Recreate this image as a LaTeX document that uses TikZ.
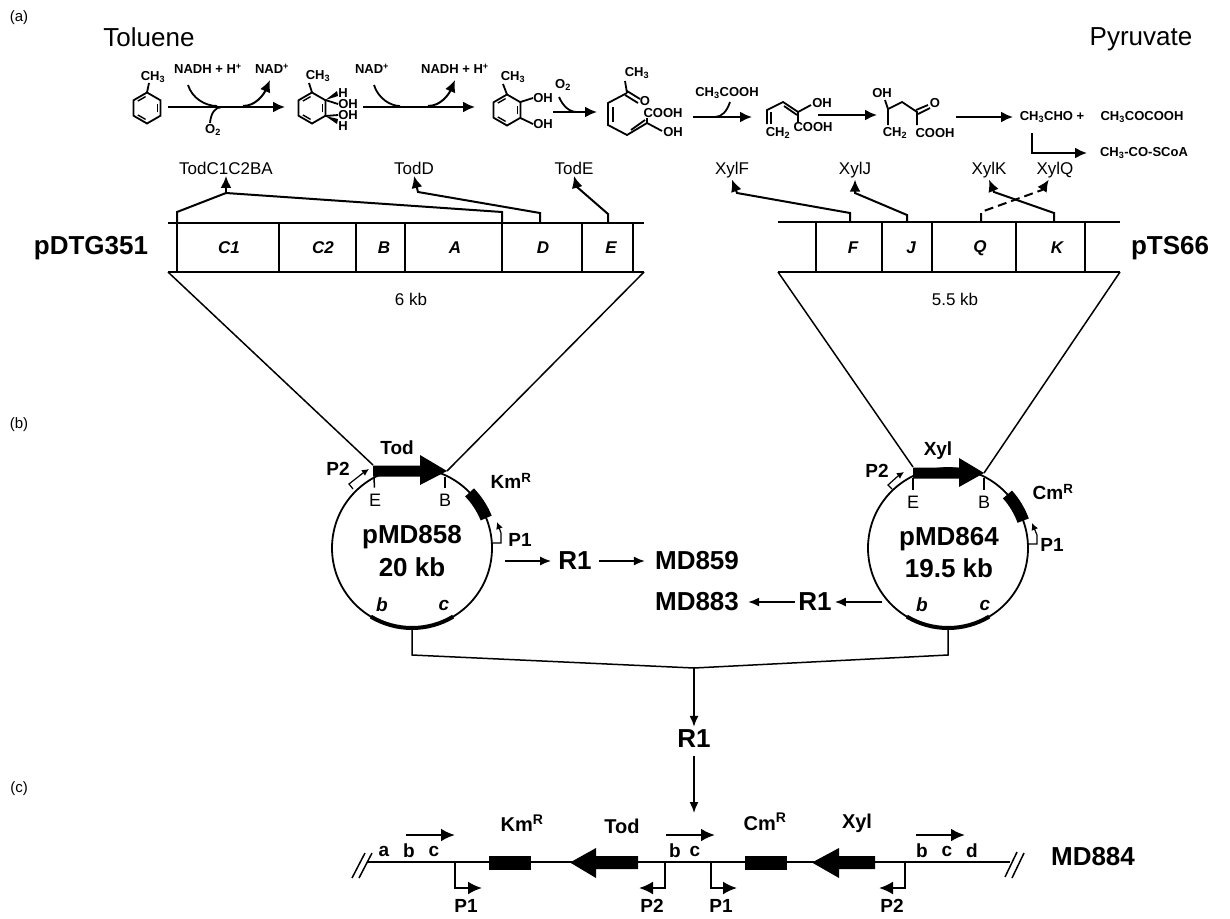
\documentclass[tikz,border=0pt]{standalone}
\usepackage{fontspec}
\setmainfont{Liberation Sans}
\usetikzlibrary{positioning,calc,shapes.geometric,arrows.meta}

\begin{document}
\begin{tikzpicture}[
  x=1pt,y=-1pt,
  panel_lbl/.style={font=\fontsize{15}{15}\selectfont,inner sep=0pt},
  title_lbl/.style={font=\fontsize{26}{26}\selectfont,inner sep=0pt},
  big_lbl/.style={font=\bfseries\fontsize{26}{26}\selectfont,inner sep=0pt},
  mid_lbl/.style={font=\bfseries\fontsize{19}{19}\selectfont,inner sep=0pt},
  low_lbl/.style={font=\bfseries\fontsize{20}{20}\selectfont,inner sep=0pt},
  site_lbl/.style={font=\fontsize{18}{18}\selectfont,inner sep=0pt},
  gene_lbl/.style={font=\fontsize{17}{17}\selectfont,inner sep=1.5pt},
  gene_ital/.style={font=\bfseries\itshape\fontsize{17}{17}\selectfont,inner sep=0pt},
  chem_lbl/.style={font=\bfseries\fontsize{13}{13}\selectfont,inner sep=0pt},
  ring/.style={draw,regular polygon,regular polygon sides=6,minimum size=31pt,shape border rotate=30,inner sep=0pt,outer sep=0pt,line width=1.8pt},
  plasmid/.style={draw,circle,minimum size=160pt,inner sep=0pt,outer sep=0pt,line width=1.8pt},
  bond/.style={line width=1.8pt},
  thin_line/.style={line width=1.5pt},
  map_line/.style={line width=2pt},
  prom/.style={line width=1.2pt,-{Latex[length=7pt,width=7pt]}},
  ptr/.style={line width=2pt,-{Latex[length=12pt,width=11pt]}},
  dptr/.style={line width=1.6pt,-{Latex[length=11pt,width=9pt]}},
  lowptr/.style={line width=2.6pt,-{Latex[length=14pt,width=13pt]}},
  ]
  \useasboundingbox (0,0) rectangle (1230,918);

  \node[panel_lbl] (NPanelA) at (19,18) {(a)};
  \node[panel_lbl] (NPanelB) at (19,425) {(b)};
  \node[panel_lbl] (NPanelC) at (19,789) {(c)};
  \node[title_lbl] (NToluene) at (149,37) {Toluene};
  \node[title_lbl] (NPyruvate) at (1141,39) {Pyruvate};

  % pathway
  \node[ring] (NRing1) at (147,108) {};
  \node[ring] (NRing2) at (312,108) {};
  \node[ring] (NRing3) at (507,110) {};
  \foreach \r in {NRing1,NRing2,NRing3} {
    \foreach \a in {90,210,330} {
      \draw[bond,line width=1.4pt] ([shift={(\a+7:11.5pt)}]\r.center) -- ([shift={(\a+53:11.5pt)}]\r.center);
    }
  }
  \node[chem_lbl] (NCh1) at (153,77) {CH\textsubscript{3}};
  \node[chem_lbl] (NCh2) at (318,76) {CH\textsubscript{3}};
  \node[chem_lbl] (NCh3) at (513,77) {CH\textsubscript{3}};
  \node[chem_lbl] (NCh4) at (637,73) {CH\textsubscript{3}};
  \draw[bond] (NRing1.north) -- (149,83);
  \draw[bond] (NRing2.north) -- (309,83);
  \draw[bond] (NRing3.north) -- (503,84);

  \node[chem_lbl] (NHa) at (343,93) {H};
  \node[chem_lbl] (NOHa) at (348,104) {OH};
  \node[chem_lbl] (NOHb) at (348,115) {OH};
  \node[chem_lbl] (NHb) at (343,126) {H};
  \fill (325.4,100) -- (337,91) -- (338,96) -- cycle;
  \fill (325.4,116) -- (337,124) -- (338,119) -- cycle;
  \draw[bond] (325.4,100) -- (338,104);
  \draw[bond] (325.4,116) -- (338,115);

  \node[chem_lbl] (NOHc) at (543,98) {OH};
  \node[chem_lbl] (NOHd) at (543,124) {OH};
  \draw[bond] (520.4,102) -- (533,98);
  \draw[bond] (520.4,118) -- (533,124);

  \draw[bond] (627,93) -- (608,103) -- (608,125) -- (627,135) -- (647,123) -- (647,118);
  \draw[bond] (613,107) -- (613,122);
  \draw[bond] (631,130) -- (645,120);
  \draw[bond] (627,93) -- (625,81);
  \draw[bond] (627,91) -- (640,99);
  \draw[bond] (625,95) -- (638,103);
  \draw[bond] (647,123) -- (662,131);
  \node[chem_lbl] (NOa) at (645,101) {O};
  \node[chem_lbl] (NCOOHa) at (663,113) {COOH};
  \node[chem_lbl] (NOHe) at (673,132) {OH};

  \draw[bond] (767,124) -- (767,110) -- (783,102) -- (798,112) -- (798,123);
  \draw[bond] (771,112) -- (771,124);
  \draw[bond] (784,106) -- (797,115);
  \draw[bond] (798,112) -- (811,105);
  \node[chem_lbl] (NCHa) at (778,133) {CH\textsubscript{2}};
  \node[chem_lbl] (NCOOHb) at (813,127) {COOH};
  \node[chem_lbl] (NOHf) at (822,103) {OH};

  \draw[bond] (888,125) -- (888,109) -- (902,102) -- (917,112) -- (917,125);
  \draw[bond] (888,109) -- (885,100);
  \draw[bond] (916,110) -- (928,105);
  \draw[bond] (918,114) -- (930,108);
  \node[chem_lbl] (NOHg) at (882,93) {OH};
  \node[chem_lbl] (NOb) at (935,103) {O};
  \node[chem_lbl] (NCHb) at (895,133) {CH\textsubscript{2}};
  \node[chem_lbl] (NCOOHc) at (935,133) {COOH};

  \node[chem_lbl] (NCofA) at (208,69) {NADH + H\textsuperscript{+}};
  \node[chem_lbl] (NCofB) at (272,69) {NAD\textsuperscript{+}};
  \node[chem_lbl] (NCofC) at (372,69) {NAD\textsuperscript{+}};
  \node[chem_lbl] (NCofD) at (455,69) {NADH + H\textsuperscript{+}};
  \node[chem_lbl] (NOxA) at (213,130) {O\textsubscript{2}};
  \node[chem_lbl] (NOxB) at (563,85) {O\textsubscript{2}};
  \node[chem_lbl] (NAcet) at (727,93) {CH\textsubscript{3}COOH};
  \node[chem_lbl] (NAcald) at (1052,117) {CH\textsubscript{3}CHO +};
  \node[chem_lbl] (NPyr) at (1142,117) {CH\textsubscript{3}COCOOH};
  \node[chem_lbl] (NScoa) at (1144,153) {CH\textsubscript{3}-CO-SCoA};

  \foreach \n/\xa/\xb/\yy in {A/168/285/107,B/363/475/107,C/553/597/112,D/693/752/117,E/818/877/115,F/956/1013/117} {
    \coordinate (Rs\n) at (\xa,\yy);
    \coordinate (Re\n) at (\xb,\yy);
    \draw[ptr] (Rs\n) -- (Re\n);
  }
  \coordinate (CurveA) at (188,85);
  \coordinate (CurveB) at (217,106);
  \coordinate (CurveC) at (243,106);
  \coordinate (CurveD) at (270,80);
  \coordinate (CurveE) at (210,123);
  \coordinate (CurveF) at (222,107);
  \draw[bond] (CurveA) .. controls (192,98) and (205,106) .. (CurveB);
  \draw[ptr] (CurveC) .. controls (256,106) and (264,94) .. (CurveD);
  \draw[bond] (CurveE) .. controls (211,113) and (215,107) .. (CurveF);
  \coordinate (CurveG) at (374,85);
  \coordinate (CurveH) at (400,106);
  \coordinate (CurveI) at (428,106);
  \coordinate (CurveJ) at (455,80);
  \draw[bond] (CurveG) .. controls (378,98) and (390,106) .. (CurveH);
  \draw[ptr] (CurveI) .. controls (441,106) and (449,94) .. (CurveJ);
  \coordinate (CurveK) at (559,97);
  \coordinate (CurveL) at (577,112);
  \draw[bond] (CurveK) .. controls (563,106) and (569,112) .. (CurveL);
  \coordinate (CurveM) at (730,102);
  \coordinate (CurveN) at (715,117);
  \draw[bond] (CurveM) .. controls (727,111) and (722,117) .. (CurveN);
  \coordinate (ElbowA) at (1032,133);
  \coordinate (ElbowB) at (1087,153);
  \draw[ptr] (ElbowA) |- (ElbowB);

  % left gene map
  \coordinate (TodTL) at (168,223);
  \coordinate (TodTR) at (644,223);
  \coordinate (TodBL) at (168,272);
  \coordinate (TodBR) at (644,272);
  \draw[map_line] (TodTL) -- (TodTR);
  \draw[map_line] (TodBL) -- (TodBR);
  \foreach \tick in {177,279,356,405,502,582,633} {
    \draw[map_line] (\tick,223) -- (\tick,272);
  }
  \foreach \g/\gx in {C1/229,C2/323,B/384,A/455,D/543,E/611} {
    \node[gene_ital] (NGene\g) at (\gx,248) {\g};
  }
  \node[big_lbl] (NpDTG) at (91,248) {pDTG351};
  \node[gene_lbl] (NSixKb) at (411,299) {6 kb};
  \node[gene_lbl] (NTodOp) at (226,168) {TodC1C2BA};
  \node[gene_lbl] (NTodD) at (414,168) {TodD};
  \node[gene_lbl] (NTodE) at (574,168) {TodE};
  \coordinate (TodJoin) at (226,193);
  \draw[map_line] (177,223) -- (177,212) -- (TodJoin) -- (502,212) -- (502,223);
  \draw[ptr] (TodJoin) -- (NTodOp.south);
  \draw[ptr] (540,223) -- (540,213) -- (418,192) -- (NTodD.south);
  \draw[ptr] (608,223) -- (608,214) -- (577,187) -- (NTodE.south);

  % right gene map
  \coordinate (XylTL) at (778,222);
  \coordinate (XylTR) at (1120,222);
  \coordinate (XylBL) at (778,272);
  \coordinate (XylBR) at (1120,272);
  \draw[map_line] (XylTL) -- (XylTR);
  \draw[map_line] (XylBL) -- (XylBR);
  \foreach \tick in {816,882,932,1016,1085} {
    \draw[map_line] (\tick,222) -- (\tick,272);
  }
  \foreach \g/\gx in {F/853,J/911,Q/980,K/1057} {
    \node[gene_ital] (NGene\g) at (\gx,248) {\g};
  }
  \node[big_lbl] (NpTS) at (1170,248) {pTS66};
  \node[gene_lbl] (NFiveKb) at (955,299) {5.5 kb};
  \node[gene_lbl] (NXylF) at (732,170) {XylF};
  \node[gene_lbl] (NXylJ) at (855,170) {XylJ};
  \node[gene_lbl] (NXylK) at (989,170) {XylK};
  \node[gene_lbl] (NXylQ) at (1055,170) {XylQ};
  \draw[ptr] (850,222) -- (850,213) -- (737,193) -- (NXylF.south);
  \draw[ptr] (907,222) -- (907,215) -- (855,193) -- (NXylJ.south);
  \draw[ptr] (1054,222) -- (1054,213) -- (994,192) -- (NXylK.south);
  \draw[ptr,dash pattern=on 9pt off 5pt] (981,222) -- (981,212) -- (1042,190) -- (NXylQ);

  % plasmids
  \node[plasmid] (NPlasA) at (412,548) {};
  \node[plasmid] (NPlasB) at (948,548) {};
  \node[big_lbl] (NLblA) at (412,537) {pMD858};
  \node[big_lbl] (NLblAk) at (412,567) {20 kb};
  \node[big_lbl] (NLblB) at (949,539) {pMD864};
  \node[big_lbl] (NLblBk) at (949,568) {19.5 kb};

  \coordinate (TodS) at (373,465);
  \coordinate (TodT) at (447,471);
  \coordinate (XylS) at (913,467);
  \coordinate (XylT) at (984,473);
  \draw[thin_line] (TodBL) -- (TodS);
  \draw[thin_line] (TodBR) -- (TodT);
  \draw[thin_line] (XylBL) -- (XylS);
  \draw[thin_line] (XylBR) -- (XylT);

  \fill (373,465.5) -- (420,465.5) -- (420,455) -- (TodT) -- (420,485) -- (420,476.5) -- (373,476.5) -- cycle;
  \fill (913,467.5) -- (959,467.5) -- (959,458) -- (XylT) -- (959,487) -- (959,478.5) -- (913,478.5) -- cycle;
  \node[mid_lbl] (NTod) at (397,448) {Tod};
  \node[mid_lbl] (NXyl) at (938,451) {Xyl};
  \node[site_lbl] (NEa) at (375,500) {E};
  \node[site_lbl] (NBa) at (445,500) {B};
  \node[site_lbl] (NEb) at (913,502) {E};
  \node[site_lbl] (NBb) at (984,502) {B};
  \draw[thin_line,shorten >=6pt] (374,477) -- (NEa);
  \draw[thin_line,shorten >=6pt] (445,477) -- (NBa);
  \draw[thin_line,shorten >=6pt] (913,478) -- (NEb);
  \draw[thin_line,shorten >=6pt] (984,478) -- (NBb);

  \draw[line width=12pt] (NPlasA.44) arc[start angle=44,end angle=22,radius=80pt];
  \draw[line width=12pt] (NPlasB.42) arc[start angle=42,end angle=20,radius=80pt];
  \draw[line width=4pt] (NPlasA.239) arc[start angle=239,end angle=301,radius=80pt];
  \draw[line width=4pt] (NPlasB.239) arc[start angle=239,end angle=301,radius=80pt];

  \node[mid_lbl] (NKmA) at (511,481) {Km\textsuperscript{R}};
  \node[mid_lbl] (NCmB) at (1053,492) {Cm\textsuperscript{R}};
  \node[mid_lbl] (NP2a) at (338,469) {P2};
  \node[mid_lbl] (NP1a) at (520,540) {P1};
  \node[mid_lbl] (NP2b) at (877,471) {P2};
  \node[mid_lbl] (NP1b) at (1052,545) {P1};
  \draw[prom] (353,489) -- (349,484) -- (363,473) -- (369,469);
  \draw[prom] (892,489) -- (888,485) -- (898,476) -- (904,472);
  \draw[prom] (492,543) -- (501,543) -- (501,533) -- (497,522);
  \draw[prom] (1028,544) -- (1037,544) -- (1037,535) -- (1032,523);

  \node[mid_lbl] (Nbitb) at (382,605) {\itshape b};
  \node[mid_lbl] (Nbitc) at (444,605) {\itshape c};
  \node[mid_lbl] (Nbitd) at (922,605) {\itshape b};
  \node[mid_lbl] (Nbite) at (985,605) {\itshape c};

  \node[big_lbl] (NROne) at (575,561) {R1};
  \node[big_lbl] (NMD859) at (697,561) {MD859};
  \node[big_lbl] (NRTwo) at (815,602) {R1};
  \node[big_lbl] (NMD883) at (697,602) {MD883};
  \coordinate (ToROne) at (505,561);
  \coordinate (FromB) at (882,602);
  \draw[dptr,line width=1.8pt,shorten >=7pt] (ToROne) -- (NROne.west);
  \draw[dptr,line width=1.8pt,shorten <=7pt,shorten >=10pt] (NROne.east) -- (NMD859.west);
  \draw[dptr,line width=1.8pt,shorten >=3pt] (FromB) -- (NRTwo.east);
  \draw[dptr,line width=1.8pt,shorten <=3pt,shorten >=9pt] (NRTwo.west) -- (NMD883.east);

  % merge
  \coordinate (StemA) at (412,655);
  \coordinate (StemB) at (948,655);
  \coordinate (Merge) at (694,668);
  \node[big_lbl] (NRThree) at (694,739) {R1};
  \draw[thin_line] (NPlasA.south) -- (StemA) -- (Merge) -- (StemB) -- (NPlasB.south);
  \draw[dptr,shorten >=3pt] (Merge) -- (NRThree.north);
  \coordinate (ToLine) at (694,813);
  \draw[dptr,shorten <=8pt] (NRThree.south) -- (ToLine);

  % MD884
  \coordinate (LineL) at (367,862);
  \coordinate (LineR) at (1010,862);
  \draw[bond] (LineL) -- (LineR);
  \draw[thin_line] (352,878) -- (365,853);
  \draw[thin_line] (359,878) -- (372,853);
  \draw[thin_line] (1005,877) -- (1017,852);
  \draw[thin_line] (1012,878) -- (1024,853);
  \node[big_lbl] (NMD884) at (1093,857) {MD884};

  \foreach \n/\t/\tx in {a/a/384,b/b/409,c/c/434,d/b/675,e/c/695,f/b/922,g/c/947,h/d/972} {
    \node[mid_lbl] (NSite\n) at (\tx,851) {\t};
  }
  \foreach \n/\xa in {A/406,B/666,C/916} {
    \coordinate (Dir\n) at (\xa,835);
    \draw[lowptr] (Dir\n) -- ++(49,0);
  }
  \fill (489,856) rectangle (531,870);
  \fill (745,856) rectangle (787,870);
  \fill (570,862.5) -- (596,848) -- (596,856) -- (638,856) -- (638,869) -- (596,869) -- (596,878) -- cycle;
  \fill (812,862.5) -- (839,848) -- (839,856) -- (875,856) -- (875,869) -- (839,869) -- (839,878) -- cycle;
  \node[low_lbl] (NKmC) at (522,823) {Km\textsuperscript{R}};
  \node[low_lbl] (NTodC) at (622,826) {Tod};
  \node[low_lbl] (NCmC) at (765,822) {Cm\textsuperscript{R}};
  \node[low_lbl] (NXylC) at (857,823) {Xyl};

  \foreach \n/\t/\tx/\xa/\xb in {a/P1/466/455/482,b/P2/652/665/639,c/P1/721/711/737,d/P2/892/905/879} {
    \node[mid_lbl] (NProm\n) at (\tx,906) {\t};
    \draw[lowptr,line width=2.2pt] (\xa,862) -- (\xa,888) -- (\xb,888);
  }
\end{tikzpicture}
\end{document}
